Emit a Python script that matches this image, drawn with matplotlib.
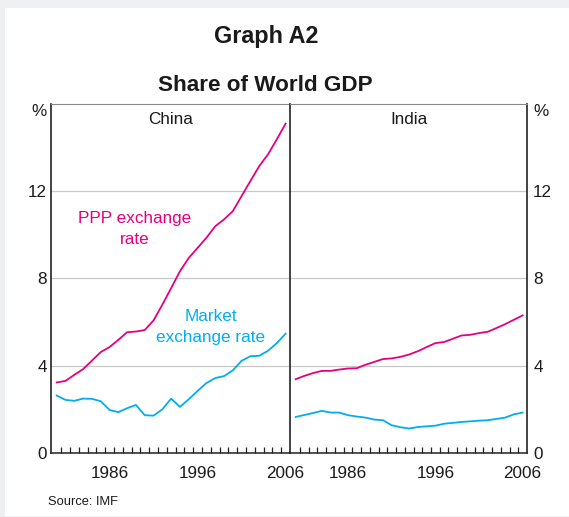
import matplotlib
matplotlib.use("Agg")
import matplotlib.pyplot as plt
from matplotlib.patches import Rectangle

years = list(range(1980, 2007))
china_ppp = [3.23, 3.30, 3.58, 3.84, 4.23, 4.62, 4.85, 5.18, 5.53, 5.56, 5.63, 6.07, 6.79, 7.55,
             8.32, 8.93, 9.39, 9.85, 10.38, 10.69, 11.07, 11.76, 12.45, 13.13, 13.67, 14.36, 15.08]
china_mkt = [2.63, 2.43, 2.39, 2.49, 2.48, 2.37, 1.97, 1.87, 2.05, 2.20, 1.73, 1.71, 2.00, 2.49,
             2.11, 2.46, 2.84, 3.20, 3.43, 3.52, 3.78, 4.22, 4.43, 4.45, 4.68, 5.03, 5.46]
india_ppp = [3.38, 3.53, 3.66, 3.76, 3.76, 3.82, 3.87, 3.88, 4.04, 4.17, 4.30, 4.33, 4.40, 4.51,
             4.66, 4.85, 5.03, 5.08, 5.23, 5.38, 5.41, 5.49, 5.55, 5.72, 5.90, 6.10, 6.30]
india_mkt = [1.65, 1.74, 1.83, 1.93, 1.85, 1.85, 1.73, 1.67, 1.62, 1.53, 1.50, 1.27, 1.18, 1.12,
             1.19, 1.22, 1.25, 1.34, 1.38, 1.42, 1.45, 1.48, 1.50, 1.56, 1.62, 1.77, 1.85]
panels = ["China", "India"]
yticks = [0, 4, 8, 12]
xlabels = [1986, 1996, 2006]

MAGENTA = "#e6007e"
CYAN = "#00aeef"
TXT = "#1a1a1a"

plt.rcParams['font.family'] = ['Liberation Sans', 'DejaVu Sans']

W, H = 569, 517
fig = plt.figure(figsize=(W / 100, H / 100), dpi=100)
fig.patch.set_facecolor("#eff0f2")
fig.patches.append(Rectangle((5 / W, 1 / H), (W - 5) / W, (H - 9) / H,
                             transform=fig.transFigure, facecolor="white",
                             edgecolor="none", zorder=-10))

left, mid, right = 51 / W, 290 / W, 527 / W
bottom, top = 1 - 453 / H, 1 - 103.5 / H
ax1 = fig.add_axes([left, bottom, mid - left, top - bottom])
ax2 = fig.add_axes([mid, bottom, right - mid, top - bottom])

data = [(china_ppp, china_mkt), (india_ppp, india_mkt)]
for i, ax in enumerate([ax1, ax2]):
    ax.set_facecolor("none")
    ppp, mkt = data[i]
    ax.plot(years, ppp, color=MAGENTA, lw=1.3, zorder=3, solid_joinstyle="round")
    ax.plot(years, mkt, color=CYAN, lw=1.3, zorder=3, solid_joinstyle="round")
    ax.set_xlim(1979.35, 2006.5)
    ax.set_ylim(0, 16)
    for v in yticks[1:]:
        ax.axhline(v, color="#c8c8c8", lw=0.9, zorder=1)
    ax.set_xticks(xlabels)
    ax.set_xticklabels([str(x) for x in xlabels])
    ax.set_xticks([y + 0.5 for y in years[:-1]], minor=True)
    ax.tick_params(axis="x", which="major", length=0, pad=9, labelsize=12.3, colors=TXT)
    ax.tick_params(axis="x", which="minor", direction="in", length=4, width=0.9, color="#222222")
    ax.set_yticks(yticks)
    ax.tick_params(axis="y", length=0, labelsize=12.3, colors=TXT)
    ax.spines["top"].set_color("#888888")
    ax.spines["top"].set_linewidth(0.8)
    ax.spines["bottom"].set_color("#222222")
    ax.spines["bottom"].set_linewidth(1.1)
    ax.text(0.5, 0.955, panels[i], transform=ax.transAxes, ha="center", va="center",
            fontsize=12.3, color=TXT)

ax1.spines["right"].set_visible(False)
ax1.spines["left"].set_color("#222222")
ax1.spines["left"].set_linewidth(1.2)
ax1.tick_params(axis="y", pad=3)
ax2.spines["left"].set_color("#222222")
ax2.spines["left"].set_linewidth(1.2)
ax2.spines["right"].set_color("#222222")
ax2.spines["right"].set_linewidth(1.2)
ax2.yaxis.tick_right()
ax2.tick_params(axis="y", pad=4.5, length=0)

# % labels
ax1.text(-0.02, 15.65, "%", transform=ax1.get_yaxis_transform(), ha="right", va="center",
         fontsize=12.3, color=TXT)
ax2.text(1.025, 15.65, "%", transform=ax2.get_yaxis_transform(), ha="left", va="center",
         fontsize=12.3, color=TXT)

# series labels
ax1.text(1988.9, 10.25, "PPP exchange\nrate", ha="center", va="center", fontsize=12.3,
         color=MAGENTA, linespacing=1.45)
ax1.text(1997.5, 5.76, "Market\nexchange rate", ha="center", va="center", fontsize=12.3,
         color=CYAN, linespacing=1.45)

fig.text(266 / W, 1 - 43 / H, "Graph A2", ha="center", va="baseline", fontsize=16.8,
         fontweight="bold", color=TXT)
fig.text(265 / W, 1 - 91 / H, "Share of World GDP", ha="center", va="baseline", fontsize=16.2,
         fontweight="bold", color=TXT)
fig.text(48 / W, 1 - 505 / H, "Source: IMF", ha="left", va="baseline", fontsize=9.3, color=TXT)

fig.savefig("out.png", dpi=100, facecolor=fig.get_facecolor())
